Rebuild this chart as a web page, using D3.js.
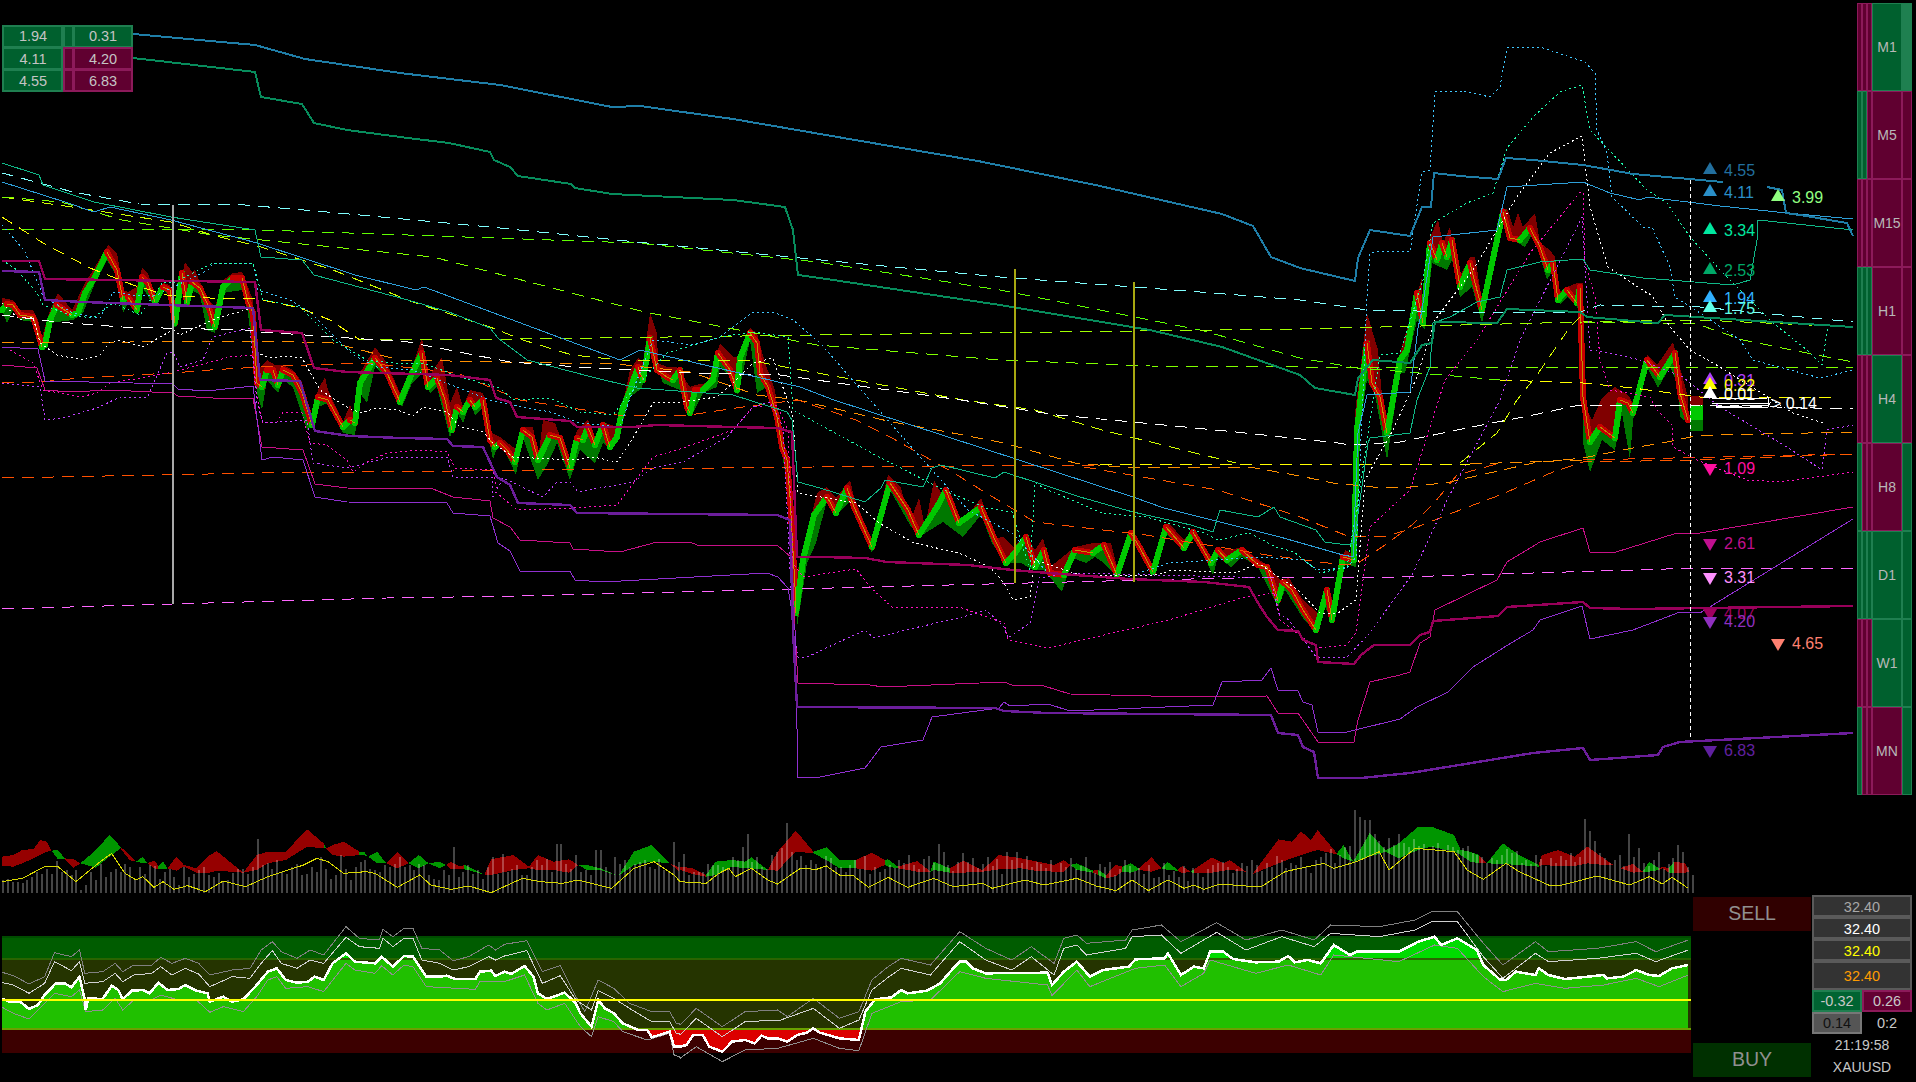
<!DOCTYPE html>
<html><head><meta charset="utf-8">
<script src="https://cdn.jsdelivr.net/npm/d3@7"></script>
<style>html,body{margin:0;background:#000;overflow:hidden}svg{display:block}text{font-family:"Liberation Sans",Arial,sans-serif}</style>
</head><body><svg id="c" width="1916" height="1082" shape-rendering="crispEdges"></svg>
<script>
// ---------- main chart series: flat lists of time, price level ----------
const blueThickA=[133,966,255,955,305,941,400,927,500,915,612,893,640,894,733,881,855,860,978,839,1100,814,1222,786,1253,774,1271,743,1300,732,1355,719,1358,742,1370,770,1410,764,1422,793,1431,793,1434,827,1460,824,1498,821,1506,842,1533,840,1583,835,1633,826,1723,818];
const blueThickB=[1767,813,1782,810,1786,787,1800,785,1847,777,1853,764];
const greenThick=[100,945,133,942,255,928,261,903,302,896,314,877,347,870,408,862,449,857,490,848,494,840,510,833,518,824,571,816,575,812,612,806,733,800,785,793,793,770,798,725,820,722,1000,695,1150,670,1222,653,1300,625,1315,612,1355,605,1358,622,1373,640,1410,637,1422,655,1432,657,1435,678,1497,677,1507,691,1580,688,1587,683,1658,677,1665,685,1853,673];
const blueThin=[2,818,65,798,94,788,110,793,171,780,257,757,355,725,416,710,424,713,620,640,640,650,800,613,834,600,1133,503,1164,492,1280,463,1343,445,1353,443,1358,567,1367,605,1410,608,1418,672,1422,690,1433,763,1497,770,1507,813,1583,818,1610,807,1640,800,1647,803,1720,794,1787,787,1853,781];
const tealThin=[2,837,39,825,43,815,94,798,171,783,255,770,261,743,302,740,314,725,408,700,449,688,490,672,498,662,527,640,592,623,637,612,733,605,787,588,792,580,798,518,820,512,865,498,881,512,885,520,923,513,932,532,941,535,995,522,1004,528,1044,515,1080,503,1133,488,1191,475,1213,468,1220,490,1258,483,1274,493,1280,483,1316,470,1325,458,1347,455,1354,457,1368,557,1370,562,1410,567,1417,600,1430,633,1433,677,1450,683,1477,698,1500,703,1507,730,1540,738,1583,741,1590,730,1643,722,1733,715,1750,720,1757,760,1758,780,1853,770];
const cyanDash=[2,827,73,808,139,796,245,795,327,788,490,773,637,758,800,742,1000,723,1200,708,1300,700,1367,690,1467,688,1580,688,1600,695,1700,693,1853,678];
const limeA=[2,771,163,771,261,770,408,765,637,757,817,738,1000,710,1200,670,1300,642,1357,632,1407,628,1500,620];
const limeAEnd=[1500,620,1583,617,1633,612,1700,603,1832,603];
const limeB=[2,803,61,798,122,780,212,765,433,743,637,690,650,687,817,655,1000,640,1150,634,1300,633,1853,632];
const limeC=[360,660,520,661,817,665,1300,671,1583,678,1700,680,1853,673];
const limeD=[1583,678,1697,676,1743,660,1807,647,1853,638];
const yellowA=[2,783,43,757,90,732,133,715,167,705,210,702,253,702,300,692,330,680,360,660];
const yellowB=[2,803,65,794,171,778,212,765,261,753,333,730,413,698,490,673,523,660,572,645,620,640,753,639,963,600,1035,590,1102,570,1191,548,1236,537];
const yellowC=[1460,537,1497,567,1517,600,1537,625,1570,673,1580,683];
const flatRed=[2,522,260,527,453,529,813,533,1100,535];
const flatYellow=[1100,535,1470,536];
const flatOrange=[1470,536,1583,540];
const flatEnd=[1583,540,1853,546];
const orangeA=[2,657,261,659,333,657,400,640,500,638,617,636,690,628,757,605,798,600,892,578,937,570,1004,557,1075,537,1120,533,1249,533,1300,524,1333,517,1383,512,1410,513,1450,518,1533,537,1583,542,1633,552,1667,558,1700,565,1720,565,1853,568];
const orangeB=[2,617,40,618,80,622,133,625,173,627,210,630,260,633,307,635,367,637,457,627,520,600,617,585,683,584,743,593,798,600,856,580,892,562,954,527,986,507,1035,478,1146,465,1267,445,1343,435,1358,437,1388,457,1412,475,1435,498,1457,525,1500,537];
const orangeC=[1084,533,1218,510,1300,483,1350,463,1387,464,1417,473,1460,490,1500,505,1553,528,1583,538,1700,540,1853,546];
const whiteLong=[2,685,57,678,122,673,245,670,261,668,408,658,510,638,592,632,690,627,780,625,961,600,1057,585,1133,578,1236,568,1338,557,1350,555,1400,558,1467,572,1533,585,1580,595,1700,595,1853,591];
const pinkLong=[2,391,173,396,387,402,520,404,793,411,1146,420,1236,422,1400,423,1700,432,1853,432];
const crimsonThick=[2,739,39,739,45,721,255,718,261,670,302,667,314,632,347,628,449,625,490,620,496,602,510,598,517,583,570,579,577,573,633,573,657,575,733,573,777,572,792,568,797,443,820,443,865,442,887,438,968,435,1012,430,1048,427,1129,421,1204,418,1249,413,1258,397,1267,383,1278,370,1298,369,1303,360,1316,355,1318,338,1354,336,1361,345,1374,355,1410,355,1420,365,1430,368,1433,379,1498,384,1507,393,1583,398,1590,392,1633,391,1853,394];
const purpleThick=[2,729,39,728,45,700,83,698,167,695,253,692,260,620,300,619,315,569,350,564,400,562,447,561,453,554,483,553,497,523,510,515,518,497,570,495,577,487,777,485,790,480,793,370,797,293,995,292,1004,289,1048,287,1271,285,1278,267,1298,265,1303,253,1314,248,1318,222,1361,222,1410,227,1533,247,1583,252,1590,240,1658,245,1663,253,1680,258,1853,267];
const crimsonThin=[2,635,37,632,45,610,70,608,110,610,173,607,178,604,213,602,253,602,262,553,303,550,315,516,347,512,433,511,453,503,490,499,493,482,510,473,520,460,570,457,573,451,620,448,657,458,690,458,697,455,777,455,792,442,795,370,798,317,870,315,883,313,1004,318,1012,315,1044,314,1070,306,1191,303,1267,304,1278,287,1298,287,1318,258,1354,258,1358,280,1370,318,1400,325,1410,328,1420,357,1430,363,1435,390,1497,420,1507,438,1540,458,1583,472,1590,448,1613,447,1677,467,1700,467,1853,493];
const purpleThin=[2,653,38,651,45,619,133,617,173,616,178,611,207,609,253,614,262,540,273,543,303,540,315,503,347,498,447,497,453,487,490,484,498,457,510,449,520,429,570,429,575,420,603,418,767,427,778,423,788,412,795,370,798,223,820,223,865,232,881,253,923,260,932,283,999,292,1004,298,1010,294,1048,296,1070,289,1213,295,1222,318,1262,320,1271,332,1278,310,1298,309,1303,298,1312,295,1318,268,1347,268,1400,281,1417,293,1448,308,1473,333,1503,352,1533,370,1540,380,1582,394,1590,361,1633,370,1680,388,1700,387,1853,481];
const magentaDot=[10,650,33,637,43,610,80,603,97,607,110,617,147,623,173,628,207,637,230,643,253,645,257,603,263,577,277,578,283,588,302,587,310,557,327,555,347,540,353,528,367,538,387,547,420,550,447,548,455,532,493,530,497,507,517,490,573,492,617,495,653,543,683,552,733,570,753,593,777,595,788,570,793,437,803,423,856,431,870,413,892,393,959,393,1004,377,1008,360,1048,352,1169,380,1245,403,1276,407,1280,380,1316,352,1347,355,1356,367,1370,473,1410,510,1445,620,1477,660,1530,747,1583,811,1585,737,1595,703,1600,640,1610,610,1650,603,1657,590,1672,575,1673,553,1697,540,1747,520,1780,518,1853,528];
const purpleDot=[2,617,40,613,45,580,63,582,97,592,120,603,147,602,167,647,173,648,180,633,203,640,210,657,213,663,233,668,250,672,257,597,263,577,277,578,307,580,313,537,347,532,367,537,390,543,417,543,447,543,453,523,492,523,493,503,503,522,543,503,557,518,570,518,578,508,633,518,653,532,683,538,727,563,753,593,770,598,783,573,793,370,798,343,807,343,865,370,874,362,914,372,959,382,986,390,1004,373,1008,362,1030,377,1039,422,1070,427,1238,423,1271,423,1278,387,1289,380,1316,343,1347,343,1370,367,1413,427,1447,500,1500,600,1520,660,1567,753,1582,783,1590,650,1610,647,1640,640,1683,623,1690,617,1720,593,1787,553,1822,530,1827,570,1853,575];
const cyanDot=[2,775,24,750,41,710,43,703,73,687,100,682,113,708,133,705,157,705,208,730,213,737,253,737,258,710,290,700,310,688,333,665,353,645,377,633,413,630,490,600,523,593,550,588,580,577,620,573,633,610,653,660,693,655,720,663,752,687,773,688,793,680,820,657,870,600,914,550,968,490,1012,467,1048,427,1080,425,1124,422,1169,437,1258,443,1303,440,1318,430,1347,432,1356,443,1367,703,1370,747,1383,749,1410,748,1422,828,1430,830,1435,908,1463,909,1490,903,1500,913,1507,952,1540,953,1585,938,1595,927,1597,870,1607,847,1612,803,1643,773,1652,773,1670,733,1675,703,1700,687,1740,660,1753,640,1790,630,1820,622,1853,630];
const tealDot=[2,740,17,730,37,707,43,695,70,685,93,682,113,697,140,685,163,718,173,717,213,737,253,737,263,700,300,693,333,660,367,640,393,637,423,637,460,623,500,612,513,600,550,602,580,588,613,585,627,603,667,647,720,663,753,668,788,663,793,590,879,543,950,507,986,492,1012,488,1030,430,1035,517,1048,510,1102,487,1146,483,1204,467,1218,460,1249,467,1276,453,1294,448,1320,427,1347,433,1358,500,1380,645,1400,647,1423,720,1433,777,1467,797,1493,807,1507,852,1533,883,1560,908,1582,915,1590,870,1647,810,1667,797,1690,763,1720,730,1733,717,1773,677,1807,650,1822,635,1827,668,1830,677];
const whiteDot=[2,697,20,680,33,683,40,657,57,645,83,640,100,645,110,658,120,660,143,653,160,663,173,670,180,665,217,682,253,692,258,647,270,642,287,644,302,642,320,610,347,593,360,587,377,592,397,590,413,584,423,593,447,588,460,573,483,568,493,557,513,543,573,540,593,543,617,538,630,557,653,597,680,598,717,603,733,617,753,637,773,642,793,583,798,507,856,497,879,477,914,457,959,447,990,433,1004,417,1013,400,1030,403,1035,440,1080,425,1146,424,1164,427,1169,430,1236,427,1258,437,1298,410,1320,387,1338,387,1356,400,1365,520,1393,570,1417,623,1435,680,1473,730,1517,803,1550,847,1582,864,1590,793,1608,733,1647,707,1652,705,1670,673,1690,650,1720,633,1793,587,1823,577];
const arrowTrace=[1712,601,1768,602,1769,595,1716,593,1768,593,1770,597,1712,596];

// price ribbon: centre, upper and lower envelopes
const ribbonMid=[2,690,7,696,13,695,20,685,27,684,33,683,38,667,42,653,45,655,50,680,57,695,63,691,72,685,78,687,85,707,95,723,107,748,117,730,123,700,128,703,137,690,142,723,148,717,155,698,163,713,170,710,175,677,182,727,187,697,192,718,200,712,208,695,215,673,223,713,233,722,242,722,248,698,253,687,257,617,262,613,267,630,273,630,278,615,283,630,293,625,302,607,312,575,318,603,328,600,343,573,350,580,355,577,360,617,375,642,387,627,400,598,412,627,422,647,428,613,437,622,445,600,452,570,457,593,463,588,470,600,475,593,483,600,490,560,495,553,500,557,507,550,515,538,523,570,532,563,538,540,543,550,550,565,560,562,570,532,577,562,583,560,588,573,595,555,603,575,610,553,617,563,622,590,630,610,638,633,643,620,650,662,657,630,667,623,673,620,680,630,687,593,690,587,695,610,703,610,713,620,718,647,725,637,730,630,737,610,740,642,750,667,757,657,760,627,768,613,777,583,782,553,787,540,790,503,795,413,796,387,803,440,814,485,827,503,836,487,847,512,854,493,872,453,890,517,908,490,919,465,937,493,946,510,959,477,981,493,995,460,1006,437,1015,447,1026,463,1035,433,1044,450,1050,427,1064,425,1075,450,1093,447,1104,455,1117,425,1131,467,1140,452,1153,428,1166,473,1184,452,1193,468,1211,437,1218,450,1227,440,1242,450,1258,435,1267,433,1278,400,1283,418,1292,410,1303,390,1316,370,1327,410,1332,380,1343,443,1354,440,1357,570,1367,657,1372,617,1380,603,1387,567,1400,640,1407,650,1417,707,1423,677,1430,757,1437,740,1442,757,1447,743,1452,760,1460,713,1470,737,1482,690,1503,788,1510,762,1520,760,1530,772,1540,753,1548,730,1553,737,1558,700,1567,710,1577,697,1580,713,1583,603,1590,558,1600,573,1615,562,1620,600,1628,597,1633,587,1647,640,1660,623,1675,647,1680,607,1688,580];
const ribbonHigh=[2,702,13,700,20,690,33,690,38,680,42,663,50,690,58,707,72,690,85,717,95,733,108,755,117,747,123,710,128,708,137,713,142,732,148,727,155,705,163,717,170,715,175,690,185,738,192,728,195,730,202,713,208,700,215,693,223,720,233,727,242,728,248,713,253,700,257,630,267,640,275,635,283,635,293,630,302,618,312,583,318,610,325,623,328,610,343,578,350,595,355,582,360,627,375,653,387,637,400,607,412,633,422,662,428,622,442,643,450,597,457,613,463,593,470,610,483,607,492,567,500,563,517,550,523,573,533,573,538,540,543,580,555,577,570,537,577,570,588,580,595,560,603,578,617,573,622,593,630,630,638,642,643,637,650,687,657,667,658,637,667,633,677,633,690,613,695,615,707,617,720,657,733,643,740,643,750,672,757,667,765,637,775,610,782,557,790,517,793,420,800,437,817,507,827,513,836,502,850,520,854,503,872,458,888,525,901,512,910,478,919,502,925,473,934,520,943,503,948,512,959,480,968,485,981,502,995,462,1004,463,1013,453,1026,465,1035,450,1043,462,1050,433,1075,453,1093,457,1111,457,1117,433,1133,468,1153,432,1169,477,1184,460,1193,470,1211,443,1218,450,1242,452,1267,435,1280,420,1289,422,1303,400,1318,387,1327,413,1334,397,1345,450,1354,445,1355,587,1367,687,1378,650,1385,570,1400,647,1422,723,1423,683,1430,763,1438,780,1443,757,1450,773,1458,720,1470,743,1475,743,1482,700,1503,792,1508,790,1513,773,1518,787,1523,773,1535,787,1540,757,1550,750,1555,743,1558,707,1567,713,1577,717,1583,717,1583,597,1592,580,1602,602,1615,613,1628,605,1633,597,1647,645,1657,635,1673,658,1688,603];
const ribbonLow=[2,690,7,677,13,690,20,680,33,678,42,650,45,650,50,677,73,680,83,687,95,717,107,740,117,723,123,687,128,697,137,685,142,713,155,693,163,710,170,703,175,670,182,713,190,695,192,710,200,705,207,670,215,667,223,707,242,710,248,687,257,607,262,590,267,620,278,607,283,620,293,613,307,570,312,573,318,593,328,597,343,567,355,565,360,607,367,597,375,633,387,623,402,593,412,617,422,627,430,607,437,613,450,562,457,588,463,577,470,597,475,585,483,593,493,540,497,553,503,553,516,525,523,562,538,520,548,537,557,557,570,520,580,550,595,537,603,557,610,550,617,558,630,603,642,612,650,653,663,617,680,610,692,585,703,607,717,613,720,633,730,623,738,605,750,660,757,607,767,613,777,580,783,540,792,487,797,373,807,437,816,457,827,500,836,485,852,500,872,447,890,510,910,475,919,463,943,478,963,463,981,485,992,457,1006,437,1021,437,1033,430,1044,430,1062,408,1073,442,1086,437,1095,443,1104,437,1117,423,1131,463,1153,427,1166,467,1182,450,1195,463,1213,425,1218,443,1231,433,1242,443,1258,433,1278,393,1285,410,1303,382,1316,368,1325,393,1332,378,1343,437,1356,433,1357,555,1367,620,1375,605,1387,540,1400,627,1405,627,1417,680,1425,670,1432,737,1447,730,1452,740,1460,703,1472,713,1482,677,1503,777,1513,760,1525,753,1533,767,1547,720,1553,730,1560,695,1567,703,1577,693,1582,687,1583,557,1590,528,1602,560,1615,550,1622,587,1630,540,1633,580,1647,633,1658,612,1670,633,1677,617,1680,583,1688,577];
const lastBarLevels=[604,595,580,569];
const lastBarTimes=[1690,1703];

// vertical session markers: time, top level, bottom level
const whiteMarker=[173,795,396];
const oliveMarkers=[[1015,731,417],[1134,718,418]];
const nowMarker=[1690,820,263];

// level labels
const labelTexts=["4.55","4.11","3.99","3.34","2.53","1.94","1.75","0.31","0.22","0.01","1.09","2.61","3.31","4.07","4.20","4.65","6.83"];
const labelLevels=[830,808,803,770,730,702,692,620,615,606,532,457,423,387,379,357,250];
const labelTimes=[1710,1710,1778,1710,1710,1710,1710,1710,1710,1710,1710,1710,1710,1710,1710,1778,1710];
const labelUp=[1,1,1,1,1,1,1,1,1,1,0,0,0,0,0,0,0];
const labelColors=["#226f9e","#2a8fc8","#90ff80","#00e8a0","#00a868","#30b0ff","#60ffe8","#b040ff","#ffff00","#ffffff","#ff10a0","#c0108f","#ff90ff","#a00060","#9030c0","#ff8070","#6020a0"];
const spreadText="> 0.14";

// summary table & timeframe column
const tableLeft=["1.94","4.11","4.55"],tableRight=["0.31","4.20","6.83"];
const tableSides=[["g","g","g"],["g","r","r"],["g","r","r"]];
const frames=["M1","M5","M15","H1","H4","H8","D1","W1","MN"];
const frameSides=["rrrgG","ggrrr","rrrrr","gggrr","rrrgr","grrrg","ggggg","rrrgg","grrrg"];
const priceCells=["32.40","32.40","32.40","32.40"];
const priceColors=["#a8a8a8","#ffffff","#ffff00","#ff9c00"];
const statA="-0.32",statB="0.26",statC="0.14",statD="0:2",clockText="21:19:58",symbolText="XAUUSD";

// volume histogram, per bar
const volumes=[13,14,11,11,10,13,16,21,19,24,19,32,21,23,18,23,3,8,21,13,29,16,21,24,21,29,26,13,26,19,28,27,14,21,24,16,8,26,16,19,23,26,18,16,20,11,13,20,24,24,19,26,54,28,30,24,33,21,19,26,29,18,19,26,21,36,24,14,18,38,24,13,26,31,33,24,23,21,28,26,29,36,26,28,23,29,28,18,14,13,23,18,46,16,21,28,19,23,14,26,36,19,39,21,24,28,18,18,26,33,28,34,21,49,49,29,24,38,21,23,18,43,43,26,21,36,29,33,26,29,31,33,26,24,34,23,21,51,31,39,18,21,21,21,29,28,28,26,24,36,33,46,59,31,36,26,24,38,41,45,70,41,33,37,28,33,29,26,37,35,26,26,21,28,33,24,37,19,26,21,24,28,25,33,30,38,28,24,34,37,30,49,41,28,22,31,40,31,35,25,29,36,27,34,19,41,33,41,30,37,26,31,29,25,33,21,30,26,35,24,27,36,22,20,29,26,31,18,24,33,27,22,25,19,28,15,16,30,18,22,16,27,12,25,20,16,24,28,30,31,26,20,24,30,27,33,28,22,30,26,37,33,25,30,28,36,26,20,33,36,40,44,30,38,46,47,83,76,73,73,59,52,46,55,48,59,50,46,54,47,49,44,47,50,44,48,46,43,45,47,40,38,36,30,35,33,38,44,40,42,30,33,29,38,34,27,35,30,37,33,40,31,36,74,62,52,40,35,30,33,38,27,59,36,45,30,27,33,41,24,29,35,48,41,26,18];

// indicator readings in two windows (A = left part of session, B = right part)
const signalA=[[5,245],[50,235],[100,200],[130,200],[170,245],[220,190],[250,160],[280,220],[305,240],[320,230],[345,262],[365,245],[390,268],[420,257],[460,275],[500,243],[550,260],[600,230],[680,195],[710,175],[735,185],[770,220],[820,215],[840,220],[890,262],[940,225],[965,255],[1010,268],[1050,258],[1100,278],[1170,235],[1210,245],[1260,250],[1295,240],[1370,265],[1420,205],[1465,185],[1510,225]];
const signalB=[[0,245],[40,250],[60,220],[75,205],[85,230],[110,205],[135,240],[150,252],[185,205],[210,208],[225,198],[245,225],[265,225],[290,262],[320,232],[350,262],[390,235],[420,260],[465,250],[480,265],[530,240],[560,255],[610,235],[640,258],[670,272],[695,240],[720,272],[750,240],[775,265],[790,255],[805,268],[830,252],[870,258],[895,258],[930,215],[965,200],[990,190],[1005,205],[1040,185],[1075,155],[1090,210],[1130,145],[1190,155],[1210,210],[1235,238],[1270,190],[1290,215],[1335,255],[1350,258],[1410,228],[1460,255],[1490,230],[1510,252],[1525,232],[1550,265]];
const flowA=[[5,170,198,"r"],[30,165,200,"r"],[50,150,190,"r"],[75,147,175,"r"],[90,120,165,"r"],[105,125,155,"r"],[115,152,152,"g"],[130,150,178,"g"],[145,175,178,"r"],[165,178,203,"r"],[180,190,190,"g"],[215,150,203,"g"],[245,105,170,"g"],[270,140,145,"r"],[290,165,180,"r"],[305,185,185,"g"],[320,170,190,"g"],[330,190,190,"r"],[345,182,205,"r"],[355,197,208,"g"],[365,185,208,"g"],[375,205,205,"r"],[395,170,212,"r"],[412,195,200,"r"],[440,205,218,"r"],[465,170,220,"r"],[485,153,212,"r"],[545,218,218,"r"],[575,165,210,"r"],[600,155,190,"r"],[640,155,180,"r"],[688,88,140,"r"],[725,130,145,"g"],[730,145,145,"r"],[745,135,165,"r"],[770,125,170,"r"],[805,155,165,"g"],[815,155,165,"g"],[825,170,170,"g"],[845,155,190,"g"],[865,190,190,"r"],[890,155,205,"r"],[915,190,190,"g"],[938,165,205,"g"],[960,190,190,"g"],[985,185,205,"g"],[1000,195,195,"r"],[1010,185,208,"r"],[1030,200,208,"r"],[1040,195,208,"g"],[1050,200,210,"g"],[1085,225,225,"r"],[1100,178,225,"r"],[1150,165,210,"r"],[1185,200,205,"r"],[1205,165,210,"r"],[1240,185,210,"r"],[1275,178,218,"r"],[1295,195,195,"g"],[1315,195,210,"g"],[1345,205,210,"g"],[1385,228,228,"g"],[1420,155,195,"g"],[1460,135,185,"g"],[1500,190,190,"r"],[1522,203,215,"r"]];
const flowB=[[0,200,210,"r"],[20,205,222,"r"],[40,225,230,"g"],[55,185,225,"g"],[80,180,200,"g"],[100,185,205,"g"],[110,172,205,"g"],[135,210,210,"r"],[150,155,212,"r"],[178,92,155,"r"],[205,155,160,"g"],[225,142,180,"g"],[245,180,205,"g"],[270,180,205,"r"],[295,158,212,"r"],[315,180,195,"g"],[320,178,200,"g"],[335,200,205,"r"],[365,183,215,"r"],[385,215,215,"g"],[390,185,210,"g"],[415,205,218,"r"],[435,182,218,"r"],[465,210,215,"r"],[490,165,208,"r"],[525,175,205,"r"],[545,183,212,"r"],[575,195,215,"r"],[590,180,215,"r"],[600,195,195,"g"],[610,190,210,"g"],[635,212,218,"r"],[643,210,225,"g"],[655,225,235,"r"],[670,195,228,"r"],[680,200,215,"g"],[693,190,218,"g"],[705,205,210,"r"],[725,172,215,"r"],[740,205,205,"g"],[750,186,210,"g"],[765,210,212,"r"],[772,198,220,"r"],[785,215,215,"g"],[790,208,220,"r"],[818,172,218,"r"],[835,190,212,"r"],[845,180,210,"r"],[870,215,215,"r"],[880,222,222,"r"],[920,118,190,"r"],[940,125,175,"r"],[955,95,165,"r"],[970,120,155,"r"],[980,90,150,"r"],[1010,160,163,"g"],[1020,135,175,"g"],[1035,185,185,"g"],[1060,100,170,"g"],[1085,150,155,"g"],[1105,130,175,"g"],[1135,80,150,"g"],[1155,80,140,"g"],[1190,105,155,"g"],[1200,150,165,"g"],[1215,155,185,"g"],[1228,165,190,"r"],[1240,190,190,"g"],[1265,130,192,"g"],[1290,165,195,"g"],[1320,195,200,"r"],[1325,165,195,"r"],[1350,150,198,"r"],[1375,170,198,"r"],[1395,140,190,"r"],[1420,175,195,"r"],[1435,195,195,"g"],[1445,205,205,"r"],[1465,192,218,"r"],[1480,215,215,"g"],[1490,185,215,"g"],[1505,205,210,"r"],[1510,200,205,"r"],[1520,205,218,"g"],[1528,185,218,"r"],[1545,190,218,"r"],[1552,215,215,"r"]];
const rsiMainA=[[5,595],[20,605],[45,605],[65,627],[85,615],[100,585],[125,550],[145,550],[160,562],[178,530],[190,600],[192,630],[198,595],[230,597],[250,557],[265,570],[275,598],[295,572],[320,570],[335,580],[355,548],[375,570],[400,567],[415,555],[440,572],[465,580],[470,605],[500,590],[520,605],[545,598],[575,555],[600,515],[620,505],[640,540],[665,548],[690,545],[705,530],[725,540],[745,490],[775,460],[795,485],[840,490],[855,470],[880,500],[905,468],[925,470],[955,530],[985,530],[1000,527],[1020,537],[1065,537],[1075,515],[1100,512],[1110,528],[1130,515],[1145,522],[1175,498],[1195,530],[1205,580],[1225,597],[1265,578],[1290,610],[1300,640],[1325,680],[1340,600],[1355,625],[1375,640],[1395,670],[1430,690],[1450,690],[1460,712],[1500,695],[1510,740],[1522,740]];
const rsiMainB=[[0,440],[10,435],[20,405],[35,405],[45,440],[65,455],[80,425],[100,420],[115,430],[125,407],[135,415],[150,415],[165,425],[180,405],[195,398],[205,385],[215,398],[245,415],[275,420],[285,335],[300,298],[325,292],[340,270],[350,280],[380,272],[400,250],[420,205],[430,185],[440,185],[450,205],[470,220],[565,218],[572,255],[590,215],[610,185],[630,230],[650,210],[690,200],[700,178],[745,175],[750,160],[770,225],[790,200],[805,205],[815,155],[835,155],[850,177],[885,187],[920,185],[935,168],[945,187],[965,180],[985,190],[1005,135],[1030,165],[1040,155],[1105,155],[1135,125],[1160,110],[1170,135],[1195,115],[1225,150],[1235,195],[1260,238],[1270,240],[1285,215],[1315,225],[1320,205],[1335,225],[1360,237],[1395,230],[1420,225],[1425,235],[1450,230],[1470,210],[1490,225],[1505,228],[1525,205],[1550,195]];
const rsiHighA=[[5,517],[30,527],[65,552],[100,530],[122,458],[160,470],[178,450],[190,520],[230,515],[258,490],[275,515],[300,495],[340,495],[360,472],[385,490],[415,475],[445,490],[470,525],[520,510],[560,505],[585,450],[610,425],[630,455],[665,475],[695,450],[725,465],[775,380],[805,415],[850,420],[858,388],[880,410],[905,385],[925,385],[945,445],[985,450],[1015,482],[1050,470],[1095,435],[1110,450],[1130,433],[1180,422],[1215,515],[1255,497],[1290,590],[1310,635],[1340,540],[1375,565],[1410,610],[1460,635],[1500,635],[1515,670],[1522,672]];
const rsiHighB=[[0,375],[25,325],[65,380],[100,335],[150,330],[165,350],[205,295],[245,355],[275,335],[295,240],[320,200],[340,175],[385,195],[430,95],[470,145],[510,180],[540,140],[575,190],[590,115],[610,105],[625,130],[685,120],[695,90],[740,75],[770,125],[825,68],[870,120],[925,90],[975,120],[1000,75],[1075,80],[1130,60],[1155,35],[1195,35],[1235,130],[1265,195],[1315,125],[1335,155],[1410,145],[1470,125],[1500,155],[1550,120]];
const rsiUpperA=[[5,548],[30,555],[65,580],[100,550],[122,485],[160,512],[178,485],[190,550],[230,545],[258,520],[275,545],[300,525],[340,520],[360,500],[385,525],[415,505],[445,522],[470,560],[520,530],[560,535],[585,490],[610,452],[630,490],[665,505],[695,480],[725,490],[775,412],[805,440],[850,445],[858,415],[880,440],[905,415],[925,415],[945,480],[985,490],[1015,510],[1050,500],[1095,470],[1110,480],[1130,468],[1180,452],[1215,550],[1255,527],[1290,600],[1325,630],[1340,572],[1375,595],[1410,625],[1460,665],[1500,665],[1515,700],[1522,702]];
const rsiUpperB=[[0,405],[25,355],[65,410],[100,365],[155,360],[205,325],[245,385],[275,360],[295,270],[320,232],[340,205],[385,225],[430,125],[470,180],[510,210],[540,170],[575,225],[590,145],[610,135],[625,165],[685,145],[695,110],[740,105],[770,160],[825,97],[870,150],[925,110],[975,140],[1000,100],[1075,110],[1130,90],[1155,65],[1195,65],[1235,170],[1265,235],[1315,160],[1335,185],[1410,175],[1470,160],[1500,185],[1550,150]];
const rsiLowA=[[5,622],[30,640],[65,657],[100,610],[122,580],[160,590],[178,570],[192,635],[230,630],[258,595],[275,630],[300,600],[340,600],[360,585],[400,600],[440,600],[470,637],[500,620],[545,635],[575,590],[600,540],[620,530],[640,565],[690,560],[725,575],[775,490],[795,510],[840,520],[855,497],[880,525],[905,495],[925,500],[955,560],[1065,568],[1075,545],[1130,545],[1175,525],[1205,610],[1225,630],[1265,610],[1300,680],[1325,710],[1340,650],[1375,665],[1395,695],[1450,720],[1500,700],[1510,765],[1522,770]];
const rsiLowB=[[0,475],[25,440],[65,485],[100,450],[150,445],[205,415],[245,445],[275,452],[295,340],[340,305],[385,300],[430,215],[470,235],[565,255],[572,287],[610,210],[630,260],[700,205],[745,195],[770,260],[805,220],[815,180],[885,220],[935,195],[985,225],[1005,165],[1105,185],[1160,135],[1195,145],[1235,230],[1265,275],[1315,250],[1360,265],[1420,255],[1470,235],[1505,260],[1550,225]];
const rsiLevels=[64,41,0,-30,-53];

// ---------- scales ----------
const W=1916,H=1082;
const svg=d3.select("#c");
svg.append("rect").attr("width",W).attr("height",H).attr("fill","#000");
const X=d3.scaleLinear().domain([0,1916]).range([0,W]);
const Y=d3.scaleLinear().domain([1000,-82]).range([0,H]);
const barX=d3.scaleLinear().domain([0,345]).range([2,1692]);
const volY=d3.scaleLinear().domain([0,100]).range([893,793]);
const winAx=d3.scaleLinear().domain([0,1568]).range([0,700]);
const winBx=d3.scaleLinear().domain([0,1568]).range([680,1700]);
const readY=d3.scaleLinear().domain([0,300]).range([800,900]);
const rsiAy=d3.scaleLinear().domain([0,846]).range([800,1082]);
const rsiBy=d3.scaleLinear().domain([0,510]).range([900,1070]);
const rsiY=d3.scaleLinear().domain([100,-70]).range([900,1070]);
const pairs=a=>d3.range(0,a.length,2).map(i=>[a[i],a[i+1]]);
const line=d3.line().x(d=>X(d[0])).y(d=>Y(d[1]));
const raw=d3.line();

// ---------- price ribbon ----------
const mid=pairs(ribbonMid),hi=pairs(ribbonHigh),lo=pairs(ribbonLow);
const gr=svg.append("g");
gr.append("path").attr("d",line(hi.concat(mid.slice().reverse()))).attr("fill","#800000");
gr.append("path").attr("d",line(mid.concat(lo.slice().reverse()))).attr("fill","#007800");
d3.pairs(mid).forEach(([a,b])=>{
  const up=b[1]>a[1];
  gr.append("path").attr("d",line([a,b])).attr("fill","none")
    .attr("stroke",up?"#00c800":"#c80000").attr("stroke-width",6).attr("stroke-linecap","round");
});
d3.pairs(mid).forEach(([a,b])=>{
  if(b[1]<a[1]) gr.append("path").attr("d",line([a,b])).attr("fill","none").attr("stroke","#c09000").attr("stroke-width",1);
});
// last bar
[[0,1,"#800000"],[1,3,"#00c800"],[2,3,"#007800"]].forEach(([i,j,c])=>{
  gr.append("rect").attr("x",X(lastBarTimes[0])).attr("width",X(lastBarTimes[1])-X(lastBarTimes[0]))
    .attr("y",Y(lastBarLevels[i])).attr("height",Y(lastBarLevels[j])-Y(lastBarLevels[i])).attr("fill",c);
});

// ---------- level lines ----------
const D="12,8",S="2,3";
const lineDefs=[
 [pinkLong,"#ff66ff",1,D],[flatRed,"#ff5000",1,D],[flatYellow,"#ffff00",1,D],[flatOrange,"#ff9000",1,D],[flatEnd,"#ff4800",1,D],
 [orangeA,"#ff9000",1,D],[orangeB,"#ff5000",1,D],[orangeC,"#ff5a00",1,D],
 [yellowA,"#ffff00",1,D],[yellowB,"#d0ff00",1,D],[yellowC,"#d8ff00",1,D],
 [limeA,"#60ff00",1,D],[limeAEnd,"#ffff00",1,D],[limeB,"#80ff00",1,D],[limeC,"#a0ff00",1,D],[limeD,"#80ff00",1,D],
 [cyanDash,"#80ffff",1,D],[whiteLong,"#ffffff",1,D],
 [magentaDot,"#ff10c0",1,S],[purpleDot,"#c040ff",1,S],[cyanDot,"#40c8ff",1,S],[tealDot,"#20ffb0",1,S],[whiteDot,"#ffffff",1,S],
 [blueThin,"#2e9fd8",1,null],[tealThin,"#10b888",1,null],[crimsonThin,"#c81088",1,null],[purpleThin,"#9030d0",1,null],
 [blueThickA,"#1f7ea8",2,null],[blueThickB,"#1f7ea8",2,null],[greenThick,"#078c5c",2,null],
 [crimsonThick,"#98005a",2.4,null],[purpleThick,"#6c1e9c",2.4,null],[arrowTrace,"#ffffff",1,null]
];
const gl=svg.append("g").attr("fill","none");
lineDefs.forEach(([a,c,w,dash])=>{
  const p=gl.append("path").attr("d",line(pairs(a))).attr("stroke",c).attr("stroke-width",w);
  if(dash)p.attr("stroke-dasharray",dash);
});
// markers
const vLine=(m,c,w,dash)=>{const p=gl.append("line").attr("x1",X(m[0])).attr("x2",X(m[0])).attr("y1",Y(m[1])).attr("y2",Y(m[2])).attr("stroke",c).attr("stroke-width",w);if(dash)p.attr("stroke-dasharray",dash);};
vLine(whiteMarker,"#a8a8a8",2);
oliveMarkers.forEach(m=>vLine(m,"#a8a810",1.5));
vLine(nowMarker,"#ffffff",1,"4,3");

// ---------- labels ----------
const gLab=svg.append("g");
const tri=d3.symbol().type(d3.symbolTriangle).size(85);
labelTexts.forEach((t,i)=>{
  const x=X(labelTimes[i]),y=Y(labelLevels[i]);
  gLab.append("path").attr("d",tri()).attr("fill",labelColors[i])
    .attr("transform",`translate(${x},${y})${labelUp[i]?"":" rotate(180)"}`).attr("shape-rendering","auto");
  gLab.append("text").attr("x",x+14).attr("y",y).attr("dy","0.36em").attr("font-size",16).attr("fill",labelColors[i]).text(t);
});
gLab.append("text").attr("x",X(1772)).attr("y",Y(597)).attr("dy","0.36em").attr("font-size",16).attr("fill","#fff").attr("xml:space","preserve").text(spreadText);

// ---------- volume panel ----------
const gv=svg.append("g");
const flowCol={r:"#960000",g:"#009600"};
const flowPts=[[flowA,winAx],[flowB,winBx]];
flowPts.forEach(([arr,sx])=>{
  d3.pairs(arr).forEach(([a,b])=>{
    gv.append("path").attr("d",raw([[sx(a[0]),readY(a[1])],[sx(b[0]),readY(b[1])],[sx(b[0]),readY(b[2])],[sx(a[0]),readY(a[2])]])+"Z").attr("fill",flowCol[a[3]]);
  });
});
gv.selectAll(".v").data(volumes).join("rect").attr("class","v")
  .attr("x",(d,i)=>barX(i)).attr("width",2).attr("y",d=>volY(d)).attr("height",d=>volY(0)-volY(d))
  .attr("fill","#fff").attr("fill-opacity",0.27);
const sig=signalA.map(d=>[winAx(d[0]),readY(d[1])]).concat(signalB.map(d=>[winBx(d[0]),readY(d[1])]));
gv.append("path").attr("d",raw(sig)).attr("fill","none").attr("stroke","#d8d800").attr("stroke-width",1);

// ---------- oscillator panel ----------
const go=svg.append("g");
const xEnd=1691,xStart=2;
const band=(a,b,c)=>go.append("rect").attr("x",xStart).attr("width",xEnd-xStart).attr("y",rsiY(a)).attr("height",rsiY(b)-rsiY(a)).attr("fill",c);
band(rsiLevels[0],rsiLevels[1],"#005c00");
band(rsiLevels[1],rsiLevels[3],"#253400");
band(rsiLevels[3],rsiLevels[4],"#3c0000");
band(rsiLevels[0],rsiLevels[0]-2,"#004c00");
const merged=(A,B)=>A.map(d=>[winAx(d[0]),rsiAy(d[1])]).concat(B.map(d=>[winBx(d[0]),rsiBy(d[1])]));
const main=merged(rsiMainA,rsiMainB);
const base=rsiY(rsiLevels[3]);
const defs=svg.append("defs");
const clip=(id,y0,y1)=>defs.append("clipPath").attr("id",id).append("rect").attr("x",0).attr("width",W).attr("y",y0).attr("height",y1-y0);
clip("cBright",900,rsiY(rsiLevels[1]));
clip("cGreen",rsiY(rsiLevels[1]),base);
clip("cRed",base,1082);
const area=d3.area().x(d=>d[0]).y0(base).y1(d=>d[1]);
const areaPath=area(main);
go.append("path").attr("d",areaPath).attr("fill","#00dc00").attr("clip-path","url(#cBright)");
go.append("path").attr("d",areaPath).attr("fill","#20c000").attr("clip-path","url(#cGreen)");
go.append("path").attr("d",areaPath).attr("fill","#dc0000").attr("clip-path","url(#cRed)");
const hLine=(lvl,c,w)=>go.append("line").attr("x1",xStart).attr("x2",xEnd).attr("y1",rsiY(lvl)).attr("y2",rsiY(lvl)).attr("stroke",c).attr("stroke-width",w);
hLine(rsiLevels[1],"#2a6400",2);
hLine(rsiLevels[3]+1,"#6aa000",2);
const rsiLine=(A,B,c,w)=>go.append("path").attr("d",raw(merged(A,B))).attr("fill","none").attr("stroke",c).attr("stroke-width",w);
rsiLine(rsiHighA,rsiHighB,"#808080",1);
rsiLine(rsiUpperA,rsiUpperB,"#d0d0d0",1);
rsiLine(rsiLowA,rsiLowB,"#909090",1);
rsiLine(rsiMainA,rsiMainB,"#ffffff",2.5);
hLine(rsiLevels[2],"#ffff00",2);

// ---------- widgets ----------
const ui=svg.append("g");
const box=(x,y,w,h,f,s,sw=1)=>ui.append("rect").attr("x",x).attr("y",y).attr("width",w).attr("height",h).attr("fill",f).attr("stroke",s||"none").attr("stroke-width",s?sw:0);
const lab=(x,y,t,c,fs)=>ui.append("text").attr("x",x).attr("y",y).attr("dy","0.36em").attr("text-anchor","middle").attr("font-size",fs).attr("fill",c).text(t);
const G={f:"#00602e",s:"#1f7f50"},R={f:"#600030",s:"#8c1a5a"};
// table
tableLeft.forEach((t,r)=>{
  const y=25+r*22.3,h=22;
  const [a,b,c]=tableSides[r].map(k=>k==="g"?G:R);
  box(3,y+.5,59,h-1,a.f,a.s,2);box(63.5,y+.5,9,h-1,b.f,b.s,2);box(74,y+.5,58,h-1,c.f,c.s,2);
  lab(33,y+11,t,"#c4c4c4",14.5);lab(103,y+11,tableRight[r],"#c4c4c4",14.5);
});
// timeframe column
const colX=[1857,1862,1867,1872,1902],colW=[5,5,5,30,10];
const rowY=d3.scaleLinear().domain([0,9]).range([3,795]);
frames.forEach((f,r)=>{
  const y=rowY(r),h=rowY(r+1)-y;
  frameSides[r].split("").forEach((k,j)=>{
    const st=(k==="g"||k==="G")?G:R;
    box(colX[j]+.5,y+.5,colW[j]-1,h-1,k==="G"?"#1f8050":st.f,st.s,1.5);
  });
  lab(1887,y+h/2,f,"#b8b8b8",14);
});
// trade buttons
box(1693,897,118,34,"#300000");lab(1752,913,"SELL","#909090",19.5);
box(1693,1043,118,34,"#003000");lab(1752,1059,"BUY","#909090",19.5);
// price cells
const cellY=[895,917,939,961],cellH=[21,21,21,28];
priceCells.forEach((t,i)=>{box(1813,cellY[i]+1,98,cellH[i]-1,"#333","#5a5a5a",2);lab(1862,cellY[i]+cellH[i]/2+1,t,priceColors[i],14.5);});
box(1813,991,48,20,"#006432","#1f7f50",2);lab(1837,1001,statA,"#c8c8c8",14.5);
box(1863,991,48,20,"#640032","#8c1a5a",2);lab(1887,1001,statB,"#c8c8c8",14.5);
box(1813,1013,48,20,"#555","#777",2);lab(1837,1023,statC,"#111",14.5);
lab(1887,1023,statD,"#c8c8c8",14.5);
lab(1862,1045,clockText,"#c8c8c8",14);
lab(1862,1067,symbolText,"#c8c8c8",14);
</script></body></html>
